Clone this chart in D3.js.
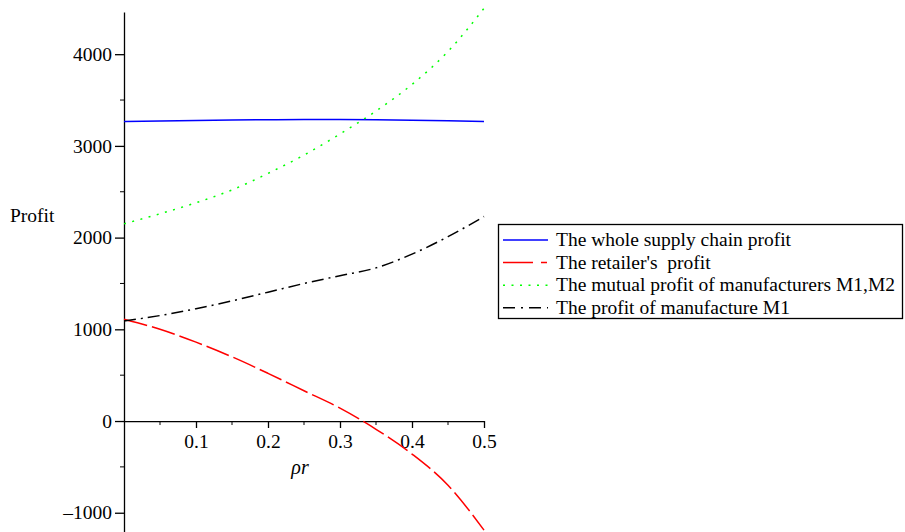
<!DOCTYPE html>
<html>
<head>
<meta charset="utf-8">
<script src="https://cdn.jsdelivr.net/npm/d3@7"></script>
<style>
body { margin: 0; background: #fff; }
svg { display: block; }
svg text { font-family: "Liberation Serif", "Times New Roman", serif; }
</style>
</head>
<body>
<script>
// rho_r values sampled along the x axis
var rho = [0, 0.05, 0.1, 0.15, 0.2, 0.25, 0.3, 0.35, 0.4, 0.45, 0.5];

var wholeChain = [3265, 3272, 3278, 3282, 3285, 3287, 3287, 3285, 3280, 3273, 3265];
var retailer   = [1110, 1000, 860, 700, 520, 330, 140, -90, -360, -700, -1190];
var mutual     = [2150, 2260, 2380, 2520, 2700, 2900, 3130, 3380, 3670, 4030, 4500];
var manuM1     = [1090, 1150, 1225, 1310, 1405, 1500, 1585, 1670, 1820, 2010, 2230];

var seriesNames = ["The whole supply chain profit", "The retailer's  profit",
	"The mutual profit of manufacturers M1,M2", "The profit of manufacture M1"];

var xTicks = [0.1, 0.2, 0.3, 0.4, 0.5];
var yTicks = [-1000, 0, 1000, 2000, 3000, 4000];

var w = 905;
var h = 532;
var fs = 19.5;

var svg = d3.select("body")
			.append("svg")
			.attr("width", w)
			.attr("height", h);

var xScale = d3.scaleLinear()
					.domain([0, 0.5])
					.range([124, 484]);

var yScale = d3.scaleLinear()
					.domain([-1210, 4460])
					.range([532, 12]);

var styles = [
	{color: "#0000ff", dash: null},
	{color: "#ff0000", dash: "24,5"},
	{color: "#00ff00", dash: "2,6.5"},
	{color: "#000000", dash: "12,5,2,5"}
];
var allSeries = [wholeChain, retailer, mutual, manuM1];

var line = d3.line()
	.x(function(d, i){ return xScale(rho[i]); })
	.y(function(d){ return yScale(d); })
	.curve(d3.curveMonotoneX);

// x axis at profit = 0
var xAxis = d3.axisBottom(xScale)
	.tickValues(xTicks)
	.tickFormat(d3.format(".1f"))
	.tickSizeInner(7)
	.tickSizeOuter(0);
var gx = svg.append("g")
	.attr("transform", "translate(0," + yScale(0) + ")")
	.call(xAxis);
gx.selectAll("text").attr("y", 13);

// minor x ticks
svg.append("g").selectAll("line")
	.data([0.05, 0.15, 0.25, 0.35, 0.45])
	.enter().append("line")
	.attr("x1", function(d){ return xScale(d); })
	.attr("x2", function(d){ return xScale(d); })
	.attr("y1", yScale(0))
	.attr("y2", yScale(0) + 4)
	.attr("stroke", "#000");

var yAxis = d3.axisLeft(yScale)
	.tickValues(yTicks)
	.tickFormat(function(d){ return d < 0 ? "\u2013" + Math.abs(d) : d; })
	.tickSizeInner(9)
	.tickSizeOuter(0);
var gy = svg.append("g")
	.attr("transform", "translate(" + xScale(0) + ",0)")
	.call(yAxis);
gy.selectAll("text").attr("x", -12);

// minor y ticks
svg.append("g").selectAll("line")
	.data([-500, 500, 1500, 2500, 3500])
	.enter().append("line")
	.attr("x1", xScale(0) - 4)
	.attr("x2", xScale(0))
	.attr("y1", function(d){ return yScale(d); })
	.attr("y2", function(d){ return yScale(d); })
	.attr("stroke", "#000");

svg.selectAll(".domain, .tick line").attr("stroke", "#000").attr("stroke-width", 1.3);
svg.selectAll(".tick text").attr("fill", "#000")
	.style("font-size", fs + "px")
	.style("font-family", "'Liberation Serif', serif");

svg.selectAll("path.series")
	.data(allSeries)
	.enter()
	.append("path")
	.attr("class", "series")
	.attr("d", line)
	.attr("fill", "none")
	.attr("stroke", function(d, i){ return styles[i].color; })
	.attr("stroke-width", 1.5)
	.attr("stroke-dasharray", function(d, i){ return styles[i].dash; });

// axis titles
svg.append("text")
	.attr("x", 10)
	.attr("y", 222)
	.style("font-size", fs + "px")
	.text("Profit");

svg.append("text")
	.attr("x", 300)
	.attr("y", 474)
	.attr("text-anchor", "middle")
	.style("font-size", "20px")
	.style("font-style", "italic")
	.text("\u03C1r");

// legend
var legend = svg.append("g");
legend.append("rect")
	.attr("x", 498.5)
	.attr("y", 224.5)
	.attr("width", 404)
	.attr("height", 94)
	.attr("fill", "#fff")
	.attr("stroke", "#000")
	.attr("stroke-width", 1.3);

var entry = legend.selectAll("g.entry")
	.data(seriesNames)
	.enter()
	.append("g")
	.attr("class", "entry")
	.attr("transform", function(d, i){ return "translate(0," + (240 + i * 22.6) + ")"; });

entry.append("line")
	.attr("x1", 503)
	.attr("x2", 548)
	.attr("stroke", function(d, i){ return styles[i].color; })
	.attr("stroke-width", 1.5)
	.attr("stroke-dasharray", function(d, i){ return i == 1 ? "30,8,6,20" : i == 3 ? "12,6,2,6" : styles[i].dash; });

entry.append("text")
	.attr("x", 556)
	.attr("y", 6)
	.style("font-size", "19.5px")
	.style("white-space", "pre")
	.text(function(d){ return d; });
</script>
</body>
</html>
